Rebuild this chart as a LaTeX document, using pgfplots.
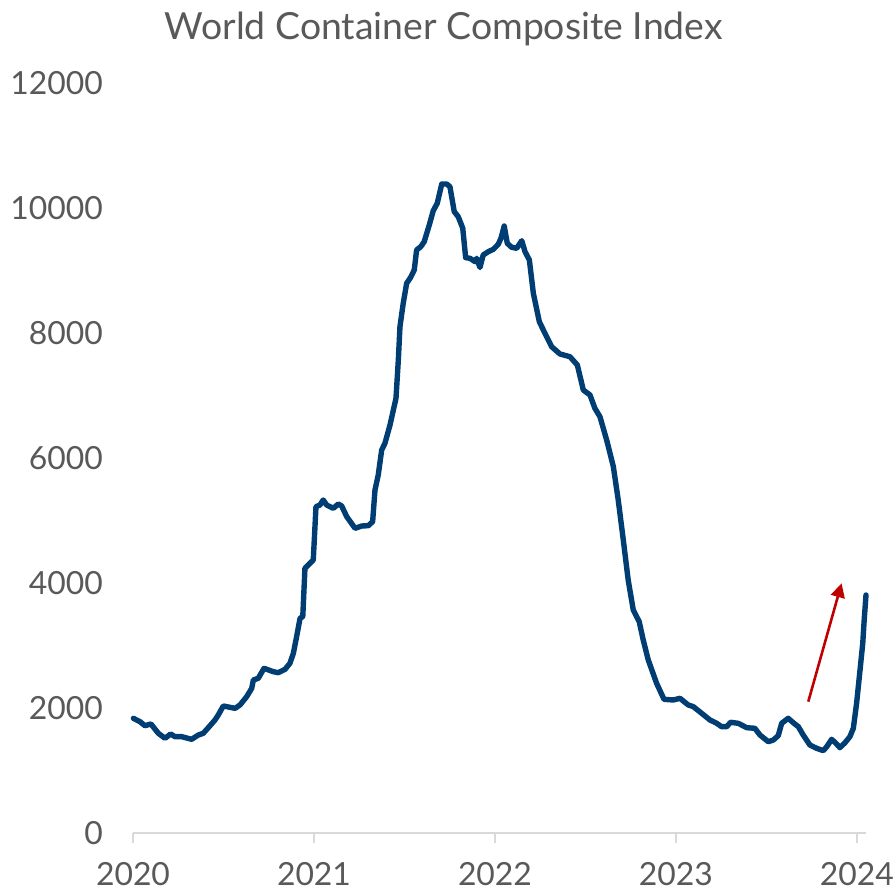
\documentclass[border=0pt]{standalone}
\usepackage{pgfplots}
\pgfplotsset{compat=1.18}
\usepackage{fontspec}
\setmainfont{Lato}
\usetikzlibrary{arrows.meta}
\definecolor{linecol}{RGB}{0,61,115}
\definecolor{txtcol}{RGB}{89,89,89}
\definecolor{axcol}{RGB}{217,217,217}
\definecolor{arrcol}{RGB}{192,0,0}
\begin{document}
\begin{tikzpicture}
\begin{axis}[
  scale only axis,
  width=733bp, height=750bp,
  xmin=2020, xmax=2024.05,
  ymin=0, ymax=12000,
  clip=false,
  axis x line*=bottom,
  axis y line*=left,
  x axis line style={draw=axcol, line width=1.2bp},
  y axis line style={draw=none},
  xtick={2020,2021,2022,2023,2024},
  ytick={0,2000,4000,6000,8000,10000,12000},
  scaled y ticks=false,
  /pgf/number format/1000 sep={},
  /pgf/number format/assume math mode=true,
  xtick align=outside,
  x tick style={draw=axcol, line width=1.2bp},
  major tick length=10bp,
  y tick style={draw=none},
  ticklabel style={font=\fontsize{32}{38}\selectfont, text=txtcol, inner sep=0pt},
  yticklabel style={anchor=east, xshift=-30bp},
  xticklabel style={anchor=north, yshift=-19bp},
]
\addplot[linecol, line width=5.4bp, line join=round, line cap=round] coordinates {
(2020.002,1835) (2020.039,1780) (2020.066,1717) (2020.099,1744) (2020.140,1595) (2020.177,1515) (2020.208,1584) (2020.232,1541) (2020.269,1541) (2020.324,1499) (2020.361,1568) (2020.388,1595) (2020.416,1685) (2020.453,1808) (2020.471,1888) (2020.499,2032) (2020.564,1995) (2020.591,2048) (2020.628,2181) (2020.656,2315) (2020.665,2448) (2020.692,2475) (2020.724,2635) (2020.775,2581) (2020.803,2565) (2020.840,2619) (2020.867,2715) (2020.886,2875) (2020.904,3141) (2020.923,3435) (2020.938,3461) (2020.950,4235) (2020.978,4315) (2020.996,4368) (2021.011,5221)
(2021.033,5248) (2021.051,5328) (2021.070,5248) (2021.107,5195) (2021.134,5264) (2021.153,5232) (2021.181,5061) (2021.227,4875) (2021.264,4912) (2021.300,4917) (2021.324,4981) (2021.337,5488) (2021.355,5728) (2021.374,6128) (2021.392,6235) (2021.420,6528) (2021.453,6955) (2021.466,7568) (2021.475,8101) (2021.493,8475) (2021.512,8795) (2021.534,8891) (2021.554,9008) (2021.567,9328) (2021.590,9381) (2021.609,9461) (2021.637,9728) (2021.659,9957) (2021.681,10075) (2021.706,10384) (2021.733,10384) (2021.751,10341) (2021.775,9941) (2021.797,9861) (2021.822,9675) (2021.838,9205) (2021.862,9195) (2021.890,9141) (2021.899,9195) (2021.917,9048) (2021.935,9248) (2021.963,9301) (2021.991,9339)
(2022.018,9419) (2022.033,9515) (2022.051,9712) (2022.068,9435) (2022.092,9371) (2022.120,9355) (2022.148,9477) (2022.166,9301) (2022.190,9168) (2022.212,8635) (2022.245,8181) (2022.276,7995) (2022.313,7781) (2022.359,7664) (2022.414,7621) (2022.455,7488) (2022.488,7088) (2022.525,7008) (2022.552,6795) (2022.580,6661) (2022.617,6288) (2022.654,5861) (2022.681,5328) (2022.709,4688) (2022.736,4048) (2022.764,3568) (2022.797,3381) (2022.819,3088) (2022.847,2768) (2022.893,2395) (2022.934,2139) (2022.985,2128)
(2023.022,2155) (2023.068,2048) (2023.096,2021) (2023.142,1915) (2023.188,1808) (2023.225,1755) (2023.252,1701) (2023.280,1701) (2023.302,1771) (2023.344,1755) (2023.391,1685) (2023.436,1675) (2023.464,1568) (2023.510,1461) (2023.538,1488) (2023.565,1557) (2023.584,1755) (2023.620,1835) (2023.648,1765) (2023.676,1701) (2023.703,1568) (2023.740,1408) (2023.777,1355) (2023.814,1317) (2023.833,1381) (2023.860,1499) (2023.884,1435) (2023.906,1365) (2023.934,1445) (2023.961,1541) (2023.980,1675) (2023.998,2075) (2024.017,2608) (2024.032,3035) (2024.040,3408) (2024.050,3808)
};
\draw[arrcol, line width=2.6bp, -{Triangle[length=14bp,width=14bp]}] (axis cs:2023.731,2101) -- (axis cs:2023.915,3995);
\node[anchor=base, text=txtcol, font=\fontsize{37.5}{44}\selectfont, inner sep=0pt] at ([yshift=43bp]rel axis cs:0.424,1) {World Container Composite Index};
\path (rel axis cs:-0.18145,-0.07867) rectangle (rel axis cs:1.04093,1.11067);
\end{axis}
\end{tikzpicture}
\end{document}
